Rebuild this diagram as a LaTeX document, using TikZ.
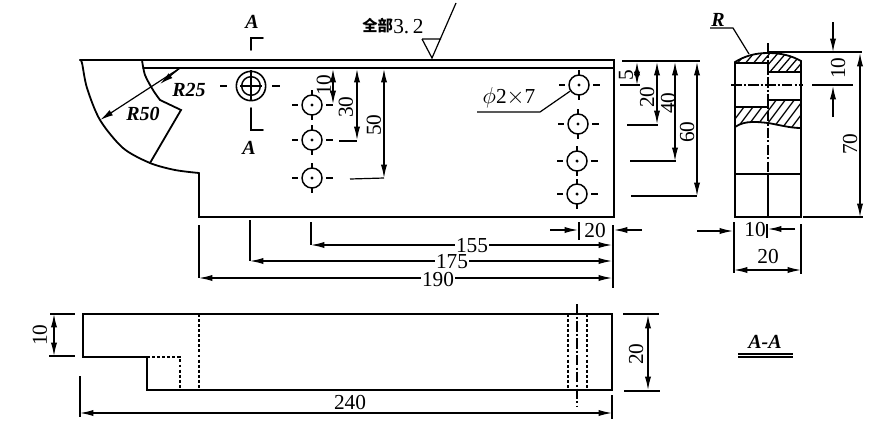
\documentclass[tikz,border=0pt]{standalone}
\usepackage{fontspec}
\usepackage{tikz}
\usetikzlibrary{arrows.meta}
\setmainfont{Liberation Serif}
\newfontfamily\cjk{Noto Sans CJK SC}

\tikzset{
	outline/.style={line width=1.35pt, line cap=round},
	thinline/.style={line width=0.9pt},
	dimline/.style={line width=0.9pt, <->, >={Latex[length=10pt,width=4.6pt]}},
	dimin/.style={line width=0.9pt, ->, >={Latex[length=10pt,width=4.6pt]}},
	hidden/.style={line width=0.9pt, dash pattern=on 2.2pt off 1.6pt},
	centerline/.style={line width=1.1pt, dash pattern=on 8pt off 1.6pt on 1.5pt off 1.6pt},
	hatch/.style={line width=0.95pt},
	hole/.style={circle, draw, line width=1.1pt, minimum size=15pt, inner sep=0pt},
	dimtext/.style={font=\fontsize{16}{16}\selectfont, inner sep=1pt},
	sidetext/.style={dimtext, rotate=90},
	gaptext/.style={dimtext, fill=white},
	slanttext/.style={font=\fontsize{15}{15}\selectfont\bfseries\itshape, inner sep=0pt},
}

\begin{document}
\begin{tikzpicture}[x=0.75pt, y=-0.75pt]
	\useasboundingbox (0,0) rectangle (880,429);

	% front view
	\draw[outline] (80,60) -- (614,60) -- (614,217) -- (199,217) -- (199,173);
	\draw[outline] plot[smooth] coordinates {(199,173) (175,170) (150,163) (123,148) (100,120) (87,88) (82,63) (80,60)};
	\draw[outline] (143,68) -- (614,68);
	\draw[outline] plot[smooth] coordinates {(142,60) (145,75) (153,90) (160,100)};
	\draw[outline] (160,100) -- (181,110) -- (150,163);
	\draw[dimin] (180,68) -- (100,120);
	\draw[dimin] (180,68) -- (160,84);

	% section marks
	\draw[outline] (251,50) -- (251,38) -- (263,38);
	\draw[outline] (251,108) -- (251,130) -- (263,130);
	\node[slanttext] (markTop) at (252,22) {A};
	\node[slanttext] (markBottom) at (249,148) {A};

	% holes
	\node[circle, draw, line width=1.2pt, minimum size=22pt, inner sep=0pt] (holeA) at (251,86) {};
	\node[circle, draw, line width=1.1pt, minimum size=14pt, inner sep=0pt] (holeB) at (251,86) {};
	\draw[thinline] (251,70) -- (251,100) (240,86) -- (262,86);
	\draw[thinline] (220,86) -- (227,86) (272,86) -- (280,86);
	\foreach \name/\px/\py in {p1/312/105, p2/312/140, p3/312/178, q1/579/85, q2/578/124, q3/577/161, q4/577/194} {
		\node[hole] (\name) at (\px,\py) {};
		\fill (\px,\py) circle (1.3pt);
		\draw[thinline] (\px-20,\py) -- (\px-14,\py) (\px+14,\py) -- (\px+21,\py);
		\draw[thinline] (\px,\py-15) -- (\px,\py-10) (\px,\py+10) -- (\px,\py+15);
	}

	% surface mark
	\draw[thinline] (422,39) -- (441,39) (422,39) -- (432,58) -- (456,3);
	\node[font=\fontsize{11.5}{12}\selectfont\bfseries\cjk, inner sep=0pt, anchor=west] (roughText) at (362,26) {全部};
	\node[dimtext, anchor=west, inner sep=0pt] (roughValue) at (393,27) {3.\,2};

	% leader for the small holes
	\coordinate (leaderEnd) at (477,112);
	\coordinate (leaderBend) at (540,112);
	\draw[thinline] (leaderEnd) -- (leaderBend) -- (q1);
	\node[dimtext] (holeLabel) at (509,98) {$\phi$2$\times$7};

	% heights on the front view
	\draw[dimline] (333,69) -- (333,104);
	\draw[thinline] (327,105) -- (333,105);
	\draw[dimline] (357,69) -- (357,140);
	\draw[thinline] (339,141) -- (357,141);
	\draw[dimline] (384,69) -- (384,178);
	\draw[thinline] (350,179) -- (384,178);
	\node[sidetext] (hTen) at (324,85) {10};
	\node[sidetext] (hThirty) at (346,107) {30};
	\node[sidetext] (hFifty) at (374,125) {50};

	\draw[thinline] (622,61) -- (700,61);
	\draw[dimline] (637,62) -- (637,85);
	\draw[thinline] (620,85) -- (640,85);
	\draw[dimline] (657,62) -- (657,124);
	\draw[thinline] (627,125) -- (658,125);
	\draw[dimline] (675,62) -- (675,161);
	\draw[thinline] (630,161) -- (676,161);
	\draw[dimline] (697,62) -- (697,196);
	\draw[thinline] (631,196) -- (697,196);
	\node[sidetext] (rFive) at (626,75) {5};
	\node[sidetext] (rTwenty) at (647,97) {20};
	\node[sidetext] (rForty) at (668,103) {40};
	\node[sidetext] (rSixty) at (687,132) {60};

	% lengths under the front view
	\draw[thinline] (311,222) -- (311,245);
	\draw[thinline] (250,220) -- (250,261);
	\draw[thinline] (199,225) -- (199,278);
	\draw[thinline] (613,225) -- (613,288);
	\draw[thinline] (579,222) -- (579,240);
	\draw[dimline] (311,245) -- (612,245);
	\draw[dimline] (250,261) -- (612,261);
	\draw[dimline] (199,278) -- (612,278);
	\draw[dimin] (550,230) -- (578,230);
	\draw[dimin] (642,230) -- (614,230);
	\node[gaptext] (lenA) at (472,246) {155};
	\node[gaptext] (lenB) at (452,262) {175};
	\node[gaptext] (lenC) at (438,280) {190};
	\node[dimtext] (lenD) at (595,231) {20};

	% plan view
	\draw[outline] (83,314) -- (612,314) -- (612,390) -- (147,390) -- (147,357) -- (83,357) -- cycle;
	\draw[hidden] (147,357) -- (180,357) -- (180,390);
	\draw[hidden] (199,314) -- (199,390);
	\draw[hidden] (568,314) -- (568,390);
	\draw[hidden] (587,314) -- (587,390);
	\draw[centerline] (577,304) -- (577,407);

	\draw[thinline] (50,314) -- (75,314);
	\draw[thinline] (49,356) -- (75,356);
	\draw[dimline] (54,314) -- (54,356);
	\node[sidetext] (pTen) at (40,335) {10};
	\draw[thinline] (623,314) -- (659,314);
	\draw[thinline] (624,391) -- (660,391);
	\draw[dimline] (648,315) -- (648,390);
	\node[sidetext] (pTwenty) at (636,354) {20};
	\draw[thinline] (80,376) -- (80,417);
	\draw[thinline] (612,395) -- (612,419);
	\draw[dimline] (80,413) -- (612,413);
	\node[dimtext] (pLength) at (350,403) {240};

	% side view
	\begin{scope}
		\clip (735,62) .. controls (745,56) and (755,53) .. (768,53) .. controls (782,53) and (792,56) .. (801,61) -- (801,72) -- (768,72) -- (768,63) -- (735,63) -- cycle;
		\foreach \i in {0,...,12} {
			\draw[hatch] (715+\i*8,80) -- (745+\i*8,45);
		}
	\end{scope}
	\begin{scope}
		\clip (735,127) .. controls (745,120) and (758,122) .. (768,123) .. controls (780,125) and (790,128) .. (801,128) -- (801,100) -- (768,100) -- (768,107) -- (735,107) -- cycle;
		\foreach \i in {0,...,12} {
			\draw[hatch] (705+\i*9,135) -- (735+\i*9,95);
		}
	\end{scope}
	\draw[outline] (735,217) -- (735,62) .. controls (745,56) and (755,53) .. (768,53) .. controls (782,53) and (792,56) .. (801,61) -- (801,217) -- cycle;
	\draw[outline] (735,63) -- (768,63) -- (768,72) -- (801,72);
	\draw[outline] (735,107) -- (768,107) -- (768,100) -- (801,100);
	\draw[outline] (735,127) .. controls (745,120) and (758,122) .. (768,123) .. controls (780,125) and (790,128) .. (801,128);
	\draw[thinline] (735,174) -- (801,174);
	\draw[centerline] (768,43) -- (768,174);
	\draw[outline] (768,174) -- (768,217);
	\draw[centerline] (731,85) -- (803,85);

	\draw[thinline] (710,28) -- (733,28) -- (749,54);
	\node[slanttext] (radiusMark) at (718,20) {R};

	\draw[thinline] (768,52) -- (862,52);
	\draw[thinline] (812,85) -- (853,85);
	\draw[thinline] (803,217) -- (863,217);
	\draw[dimin] (833,22) -- (833,52);
	\draw[dimin] (833,117) -- (833,86);
	\draw[dimline] (860,53) -- (860,217);
	\node[sidetext] (sTen) at (838,68) {10};
	\node[sidetext] (sSeventy) at (850,144) {70};

	\draw[thinline] (734,222) -- (734,273);
	\draw[thinline] (801,224) -- (801,274);
	\draw[thinline] (767,224) -- (767,238);
	\draw[dimin] (697,231) -- (733,231);
	\draw[dimin] (795,229) -- (768,229);
	\draw[dimline] (734,270) -- (801,270);
	\node[dimtext] (sWidthA) at (755,230) {10};
	\node[dimtext] (sWidthB) at (768,257) {20};

	% section title
	\node[slanttext] (sectionTitle) at (765,342) {A-A};
	\draw[thinline] (738,354) -- (793,354);
	\draw[thinline] (738,357) -- (793,357);

	% radius labels
	\node[slanttext] (radiusA) at (189,90) {R25};
	\node[slanttext] (radiusB) at (143,114) {R50};
\end{tikzpicture}
\end{document}
